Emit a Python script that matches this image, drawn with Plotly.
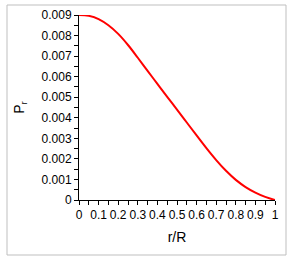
import plotly.graph_objects as go

r_over_R = [0, 0.05, 0.1, 0.15, 0.2, 0.25, 0.3, 0.35, 0.4, 0.45, 0.5,
            0.55, 0.6, 0.65, 0.7, 0.75, 0.8, 0.85, 0.9, 0.95, 1.0]
P_r = [0.00900, 0.00896, 0.00880, 0.00850, 0.00808, 0.00754, 0.00692, 0.00628,
       0.00565, 0.00502, 0.00440, 0.00377, 0.00314, 0.00252, 0.00194, 0.00142,
       0.00098, 0.00063, 0.00036, 0.00015, 0.0]

x_ticks = [0, 0.1, 0.2, 0.3, 0.4, 0.5, 0.6, 0.7, 0.8, 0.9, 1]
x_tick_text = ["0", "0.1", "0.2", "0.3", "0.4", "0.5", "0.6", "0.7", "0.8", "0.9", "1"]
y_ticks = [0, 0.001, 0.002, 0.003, 0.004, 0.005, 0.006, 0.007, 0.008, 0.009]
y_tick_text = ["0", "0.001", "0.002", "0.003", "0.004", "0.005", "0.006", "0.007", "0.008", "0.009"]

font = "Liberation Sans"

fig = go.Figure()
fig.add_trace(go.Scatter(x=r_over_R, y=P_r, mode="lines", line=dict(color="#ff0000", width=2, shape="spline"),
                         showlegend=False, hoverinfo="skip"))

fig.update_layout(
    width=300, height=263,
    margin=dict(l=79, r=25, t=15, b=63),
    paper_bgcolor="white", plot_bgcolor="white",
    font=dict(family=font, size=12, color="black"),
    xaxis=dict(range=[0, 1], tickvals=x_ticks, ticktext=x_tick_text, automargin=False,
               showgrid=False, zeroline=False, showline=True, linecolor="black", linewidth=1,
               ticks="outside", ticklen=4, tickcolor="black",
               minor=dict(dtick=0.05, ticks="outside", ticklen=4, tickcolor="black", showgrid=False),
               tickfont=dict(size=12), title=dict(text="r/R", font=dict(size=14), standoff=10)),
    yaxis=dict(range=[0, 0.009], tickvals=y_ticks, ticktext=y_tick_text, automargin=False,
               showgrid=False, zeroline=False, showline=True, linecolor="black", linewidth=1,
               ticks="outside", ticklen=4, tickcolor="black",
               minor=dict(dtick=0.0005, ticks="outside", ticklen=4, tickcolor="black", showgrid=False),
               tickfont=dict(size=12),
               title=dict(text="P<sub>r</sub>", font=dict(size=14), standoff=13)),
)

fig.add_shape(type="rect", xref="paper", yref="paper",
              x0=(7 - 79) / 196, x1=(286 - 79) / 196,
              y0=(200 - 255) / 185, y1=(200 - 5) / 185,
              line=dict(color="#bfbfbf", width=1), layer="below")

fig.write_html("out.html", config={"displayModeBar": False},
               post_script="document.body.style.margin='0';document.body.style.padding='0';")
